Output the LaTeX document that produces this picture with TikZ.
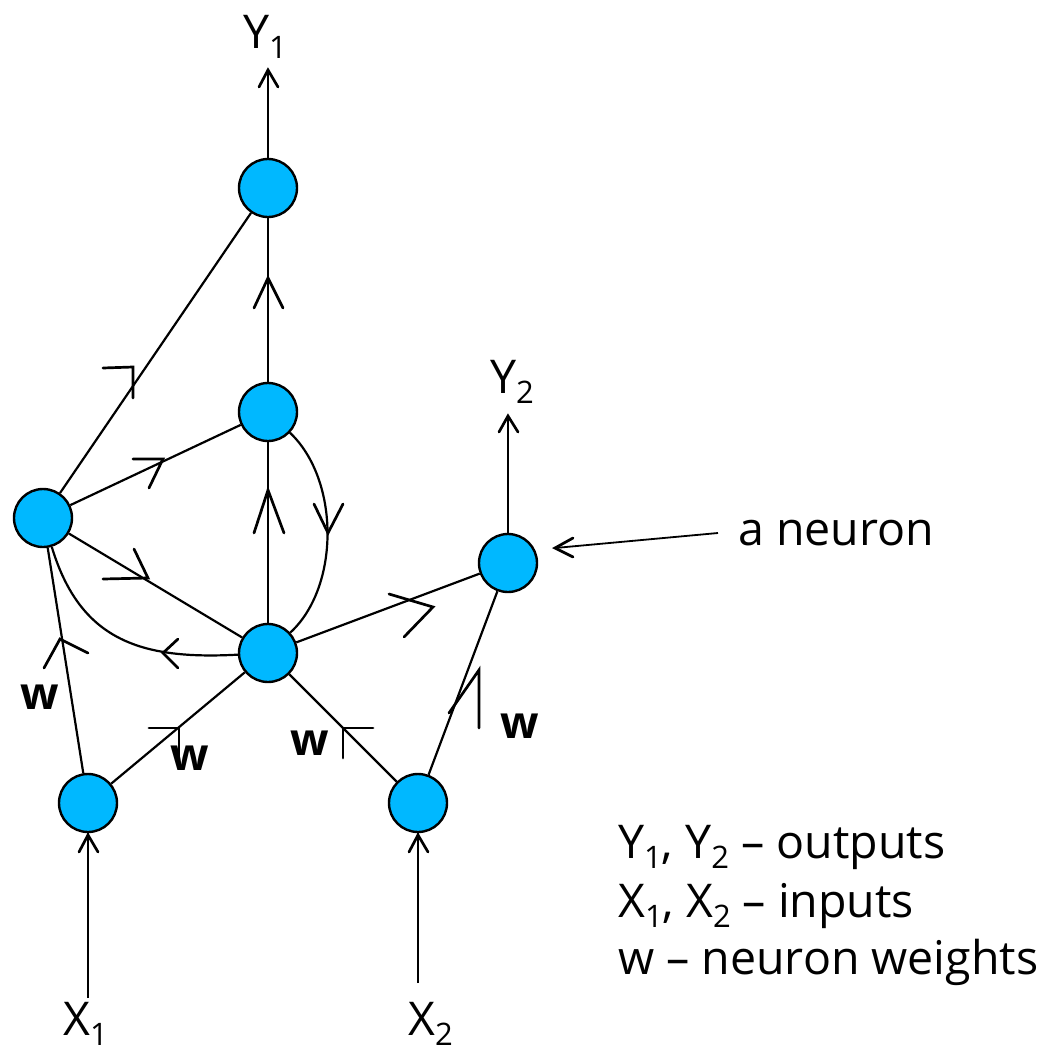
\documentclass[tikz,border=0pt]{standalone}
\usepackage{fontspec}
\setmainfont{Open Sans}
\definecolor{neu}{RGB}{0,184,255}
\newcommand\subs[1]{\raisebox{-10pt}{\fontsize{31}{31}\selectfont #1}}
\begin{document}
\begin{tikzpicture}[x=1pt,y=-1pt,
 neuron/.style={circle,draw=black,fill=neu,line width=2.4pt,minimum size=58pt,inner sep=0},
 edge/.style={line width=2.2pt},
 thinedge/.style={line width=1.8pt},
 chev/.style={line width=2.7pt,line cap=round,line join=miter},
 lbl/.style={anchor=base west,inner sep=0,font=\fontsize{46.5}{54}\selectfont},
 wl/.style={anchor=base west,inner sep=0,font=\fontsize{45}{54}\selectfont\bfseries}]
\useasboundingbox (0,0) rectangle (1046,1053);
% neurons
\node[neuron] (top) at (268,188) {};
\node[neuron] (mid) at (268,412) {};
\node[neuron] (lft) at (43,518) {};
\node[neuron] (ctr) at (268,653) {};
\node[neuron] (rgt) at (508,563) {};
\node[neuron] (in1) at (88,803) {};
\node[neuron] (in2) at (418,803) {};
% free ends
\coordinate (y1e) at (268,70);
\coordinate (y2e) at (508,416);
\coordinate (x1s) at (88,998);
\coordinate (x2s) at (418,983);
\coordinate (ans) at (718,533);
\coordinate (ant) at (555,548);
% connectors
\draw[thinedge] (top) -- (y1e);
\draw[edge] (mid) -- (top);
\draw[edge] (lft) -- (top);
\draw[edge] (lft) -- (mid);
\draw[edge] (ctr) -- (mid);
\draw[edge] (mid) .. controls (340,480) and (340,587) .. (ctr);
\draw[edge] (lft) -- (ctr);
\draw[edge] (ctr) .. controls (140,660) and (80,640) .. (lft);
\draw[edge] (in1) -- (lft);
\draw[edge] (in1) -- (ctr);
\draw[edge] (in2) -- (ctr);
\draw[edge] (in2) -- (rgt);
\draw[edge] (ctr) -- (rgt);
\draw[thinedge] (rgt) -- (y2e);
\draw[thinedge] (x1s) -- (in1);
\draw[thinedge] (x2s) -- (in2);
\draw[thinedge] (ans) -- (ant);
% chevrons (arrow marks)
\draw[chev] (259,87) -- (268,70) -- (278,87);
\draw[chev] (254,308) -- (268,278) -- (283,308);
\draw[chev] (103,368) -- (133,367) -- (133,398);
\draw[chev] (133,459) -- (163,459) -- (149,488);
\draw[chev] (254,533) -- (268,490) -- (284,533);
\draw[chev] (314,504) -- (328,533) -- (343,504);
\draw[chev] (103,579) -- (148,578) -- (134,549);
\draw[chev] (178,639) -- (163,653) -- (178,668);
\draw[chev] (44,668) -- (60,639) -- (88,653);
\draw[chev] (389,594) -- (433,607) -- (404,637);
\draw[chev] (499,432) -- (508,416) -- (518,432);
\draw[chev] (149,728) -- (179,728) -- (179,757);
\draw[chev] (373,728) -- (343,728) -- (343,758);
\draw[chev] (449,713) -- (479,670) -- (479,728);
\draw[chev] (79,852) -- (88,835) -- (98,852);
\draw[chev] (409,852) -- (418,835) -- (428,852);
\draw[chev] (573,538) -- (555,548) -- (573,557);
% labels
\node[lbl] (ly1) at (243,48) {Y\subs{1}};
\node[lbl] (ly2) at (490,393) {Y\subs{2}};
\node[lbl] (lx1) at (63,1035) {X\subs{1}};
\node[lbl] (lx2) at (408,1035) {X\subs{2}};
\node[lbl] (lan) at (738,545) {a neuron};
\node[wl] (w1) at (20,709) {w};
\node[wl] (w2) at (170,770) {w};
\node[wl] (w3) at (290,755) {w};
\node[wl] (w4) at (500,738) {w};
\node[lbl] (leg1) at (618,858) {Y\subs{1}, Y\subs{2} – outputs};
\node[lbl] (leg2) at (618,917) {X\subs{1}, X\subs{2} – inputs};
\node[lbl] (leg3) at (618,974) {w – neuron weights};
\end{tikzpicture}
\end{document}
